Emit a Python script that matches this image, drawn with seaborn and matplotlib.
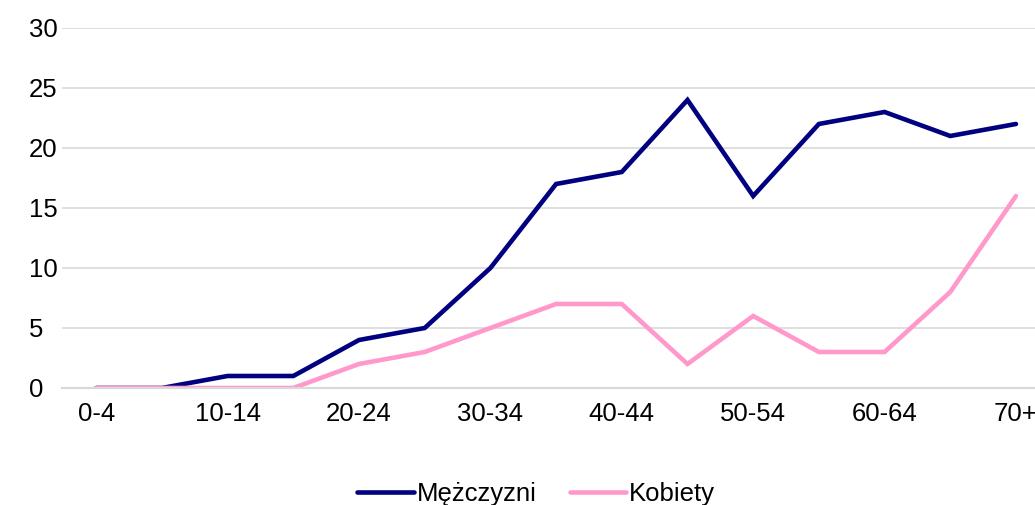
import pandas as pd
import numpy as np
import seaborn as sns
import matplotlib.pyplot as plt

age_groups = ["0-4", "5-9", "10-14", "15-19", "20-24", "25-29", "30-34", "35-39",
              "40-44", "45-49", "50-54", "55-59", "60-64", "65-69", "70+"]
men = [0, 0, 1, 1, 4, 5, 10, 17, 18, 24, 16, 22, 23, 21, 22]
women = [0, 0, 0, 0, 2, 3, 5, 7, 7, 2, 6, 3, 3, 8, 16]

df = pd.DataFrame({
    "pos": list(range(len(age_groups))) * 2,
    "value": men + women,
    "plec": ["Mężczyzni"] * len(men) + ["Kobiety"] * len(women),
})

sns.set_style("white")
plt.rcParams['font.family'] = ['Liberation Sans', 'DejaVu Sans']
plt.rcParams['text.color'] = 'black'

fig = plt.figure(figsize=(10.35, 5.05), dpi=100)
ax = fig.add_axes([0.06, 0.2317, 0.94, 0.7129])

sns.lineplot(data=df, x="pos", y="value", hue="plec",
             palette={"Mężczyzni": "#000080", "Kobiety": "#FF99CC"},
             linewidth=3.3, ax=ax, legend=False, sort=False)
for ln in ax.lines:
    ln.set_solid_capstyle("round")
    ln.set_solid_joinstyle("miter")

ax.set_ylim(0, 30)
ax.set_xlim(-0.52, 14.29)
ax.set_yticks(range(0, 31, 5))
ax.set_xticks(range(0, len(age_groups), 2))
ax.set_xticklabels(age_groups[::2])
ax.tick_params(axis="both", length=0, labelsize=18.5, colors="black")
ax.tick_params(axis="x", pad=10)
ax.tick_params(axis="y", pad=24)
ax.grid(axis="y", color="#D9D9D9", linewidth=1.2)
ax.set_axisbelow(True)
for s in ["top", "right", "left"]:
    ax.spines[s].set_visible(False)
ax.spines["bottom"].set_color("#D9D9D9")
ax.spines["bottom"].set_linewidth(1.5)
ax.set_xlabel("")
ax.set_ylabel("")
for lbl in ax.get_yticklabels():
    lbl.set_horizontalalignment("left")

handles = [plt.Line2D([], [], color="#000080", lw=3.3),
           plt.Line2D([], [], color="#FF99CC", lw=3.3)]
leg = fig.legend(handles, ["Mężczyzni", "Kobiety"], loc="center", bbox_to_anchor=(0.518, 0.022),
                 ncol=2, frameon=False, fontsize=18.5, handlelength=2.2,
                 handletextpad=0.1, columnspacing=1.3)
for t in leg.get_texts():
    t.set_color("black")

fig.savefig("out.png", dpi=100)
